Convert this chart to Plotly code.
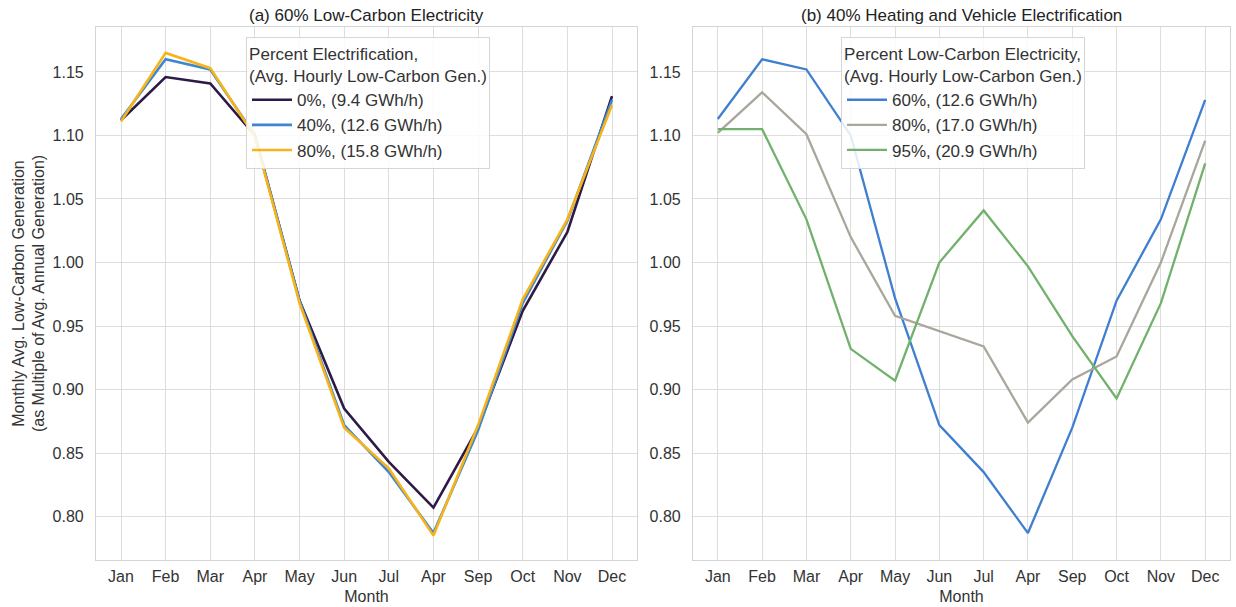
import plotly.graph_objects as go
from plotly.subplots import make_subplots

months = ["Jan", "Feb", "Mar", "Apr", "May", "Jun", "Jul", "Apr", "Sep", "Oct", "Nov", "Dec"]
month_idx = list(range(12))

# Panel (a): 60% low-carbon electricity, by electrification level
a_0 = [1.112, 1.146, 1.141, 1.100, 0.970, 0.885, 0.843, 0.807, 0.870, 0.962, 1.024, 1.131]
a_40 = [1.113, 1.160, 1.152, 1.100, 0.970, 0.872, 0.835, 0.787, 0.868, 0.968, 1.033, 1.128]
a_80 = [1.111, 1.165, 1.153, 1.099, 0.968, 0.870, 0.838, 0.785, 0.872, 0.971, 1.034, 1.124]

# Panel (b): 40% electrification, by low-carbon share
b_60 = [1.113, 1.160, 1.152, 1.100, 0.972, 0.872, 0.835, 0.787, 0.870, 0.970, 1.034, 1.128]
b_80 = [1.102, 1.134, 1.101, 1.020, 0.958, 0.946, 0.934, 0.874, 0.908, 0.926, 1.000, 1.096]
b_95 = [1.105, 1.105, 1.034, 0.932, 0.907, 1.000, 1.041, 0.997, 0.942, 0.893, 0.968, 1.078]

a_names = ["0%, (9.4 GWh/h)", "40%, (12.6 GWh/h)", "80%, (15.8 GWh/h)"]
b_names = ["60%, (12.6 GWh/h)", "80%, (17.0 GWh/h)", "95%, (20.9 GWh/h)"]
yticks = [0.80, 0.85, 0.90, 0.95, 1.00, 1.05, 1.10, 1.15]

a_colors = ["#2e1a47", "#3f86d2", "#f7b419"]
b_colors = ["#3f7fcf", "#aaa69b", "#72b16d"]

W, H = 1236, 607
FONT = "Liberation Sans, Arial, sans-serif"
TXT = "#333333"

fig = make_subplots(rows=1, cols=2)

for ys, nm, c in zip([a_0, a_40, a_80], a_names, a_colors):
    fig.add_trace(go.Scatter(x=month_idx, y=ys, mode="lines", name=nm,
                             line=dict(color=c, width=2.6), legend="legend"), row=1, col=1)
for ys, nm, c in zip([b_60, b_80, b_95], b_names, b_colors):
    fig.add_trace(go.Scatter(x=month_idx, y=ys, mode="lines", name=nm,
                             line=dict(color=c, width=2.3), legend="legend2"), row=1, col=2)

ax_common = dict(showgrid=True, gridcolor="#dedede", gridwidth=1,
                 showline=True, linecolor="#d4d4d4", linewidth=1.2, mirror=True,
                 zeroline=False, ticks="", automargin=False,
                 tickfont=dict(family=FONT, size=16, color=TXT))

x_common = dict(ax_common, tickmode="array", tickvals=month_idx, ticktext=months,
                range=[-0.56, 11.56], ticklabelstandoff=2,
                title=dict(text="Month", font=dict(family=FONT, size=16, color=TXT), standoff=6))
y_common = dict(ax_common, tickmode="array", tickvals=yticks, ticklabelstandoff=8,
                ticktext=[f"{v:.2f}" for v in yticks], range=[0.7658, 1.1854])

fig.update_xaxes(x_common, row=1, col=1, domain=[96 / W, 637 / W])
fig.update_xaxes(x_common, row=1, col=2, domain=[693 / W, 1230 / W])
fig.update_yaxes(y_common, row=1, col=1, domain=[1 - 560 / H, 1 - 27 / H],
                 title=dict(text="Monthly Avg. Low-Carbon Generation<br>(as Multiple of Avg. Annual Generation)",
                            font=dict(family=FONT, size=16, color=TXT), standoff=3))
fig.update_yaxes(y_common, row=1, col=2, domain=[1 - 560 / H, 1 - 27 / H])

legend_common = dict(bgcolor="rgba(255,255,255,0.85)", bordercolor="#d6d6d6", borderwidth=1,
                     font=dict(family=FONT, size=17, color=TXT),
                     xanchor="center", yanchor="top", tracegroupgap=0, itemwidth=40)
fig.update_layout(
    legend=dict(legend_common, x=368 / W, y=1 - 37 / H,
                title=dict(text="Percent Electrification,<br>(Avg. Hourly Low-Carbon Gen.)",
                           side="top center", font=dict(family=FONT, size=17, color=TXT))),
    legend2=dict(legend_common, x=963 / W, y=1 - 37 / H,
                 title=dict(text="Percent Low-Carbon Electricity,<br>(Avg. Hourly Low-Carbon Gen.)",
                            side="top center", font=dict(family=FONT, size=17, color=TXT))),
)

fig.add_annotation(text="(a) 60% Low-Carbon Electricity", x=(96 + 637) / 2 / W, y=1 - 16 / H,
                   xref="paper", yref="paper", showarrow=False, xanchor="center", yanchor="middle",
                   font=dict(family=FONT, size=17, color="#222222"))
fig.add_annotation(text="(b) 40% Heating and Vehicle Electrification", x=(693 + 1230) / 2 / W, y=1 - 16 / H,
                   xref="paper", yref="paper", showarrow=False, xanchor="center", yanchor="middle",
                   font=dict(family=FONT, size=17, color="#222222"))

fig.update_layout(width=W, height=H, margin=dict(l=0, r=0, t=0, b=0),
                  paper_bgcolor="white", plot_bgcolor="white",
                  font=dict(family=FONT, size=16, color=TXT), showlegend=True)

fig.write_html("out.html")
